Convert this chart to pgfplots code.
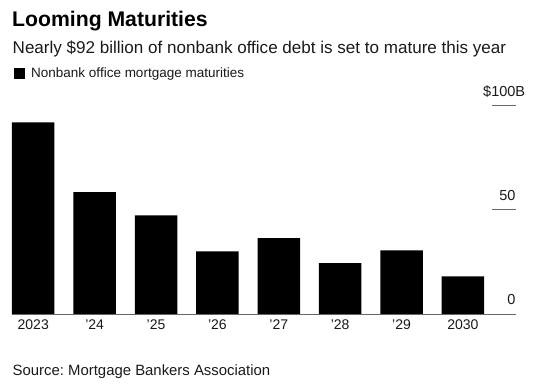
\documentclass[border=0pt]{standalone}
\usepackage{pgfplots}
\pgfplotsset{compat=1.18}
\usepackage{fontspec}
\setmainfont{Liberation Sans}
\definecolor{txt}{HTML}{1A1A1A}
\definecolor{axgray}{HTML}{666666}
\begin{document}
\frenchspacing
\begin{tikzpicture}
\useasboundingbox (-12pt,-71pt) rectangle (527pt,314pt);
\begin{axis}[
  at={(0pt,0pt)}, anchor=south west,
  scale only axis, width=503.7pt, height=208.3pt,
  xmin=-0.346, xmax=7.86, ymin=0, ymax=100,
  axis x line*=bottom, axis y line*=right,
  x axis line style={draw=axgray, line width=0.8pt},
  y axis line style={draw=none},
  xtick={0,1,2,3,4,5,6,7},
  xticklabels={2023,'24,'25,'26,'27,'28,'29,2030},
  xtick style={draw=none},
  xticklabel style={anchor=base, yshift=-16pt, font=\fontsize{14}{16}\selectfont, text=txt},
  ytick={0,50,100},
  yticklabels={0,50,\$100\rlap{B}},
  tick align=inside,
  major tick length=23.7pt,
  ytick style={draw=axgray, line width=0.9pt},
  yticklabel style={anchor=base east, inner sep=0pt, xshift=0pt, yshift=9pt, font=\fontsize{14.5}{16}\selectfont, text=txt},
  /pgf/number format/assume math mode=true,
  legend style={draw=none, fill=none, at={(0.004,1.154)}, anchor=west, inner sep=0pt, font=\fontsize{13.5}{15}\selectfont, text=txt, nodes={inner sep=0pt}},
  legend cell align=left,
  legend image code/.code={\fill[black] (0pt,-5.35pt) rectangle (10.7pt,5.35pt); \path (17pt,0pt);},
  clip=false,
]
\addplot[ybar, bar width=42.5pt, fill=black, draw=none] coordinates {
  (0,92) (1,58.5) (2,47.4) (3,30.1) (4,36.4) (5,24.4) (6,30.6) (7,18.1)
};
\addlegendentry{Nonbank office mortgage maturities}
\end{axis}
\node[anchor=base west, inner sep=0pt, font=\bfseries\fontsize{21.2}{23}\selectfont, text=black] at (0pt,287.3pt) {Looming Maturities};
\node[anchor=base west, inner sep=0pt, font=\fontsize{17.05}{19}\selectfont, text=txt] at (0.5pt,260.7pt) {Nearly \$92 billion of nonbank office debt is set to mature this year};
\node[anchor=base west, inner sep=0pt, font=\fontsize{14.9}{17}\selectfont, text=txt] at (0.5pt,-61.3pt) {Source: Mortgage Bankers Association};
\end{tikzpicture}
\end{document}
